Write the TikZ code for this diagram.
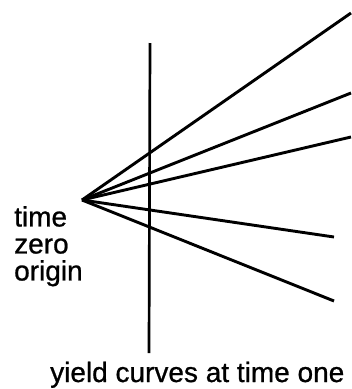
\documentclass[tikz,border=0pt]{standalone}
\usepackage{fontspec}
\setmainfont{Liberation Sans}[FakeBold=0.8]
\usetikzlibrary{positioning}

\begin{document}
\begin{tikzpicture}[
        x=1pt, y=-1pt,
        curve/.style={line width=2.9pt},
        axis/.style={line width=2.7pt},
        lbl/.style={font=\fontsize{28}{27}\selectfont, inner sep=0pt, align=left}
      ]
      \useasboundingbox (0,0) rectangle (352,389);

      % Ursprung und Zeitachse
      \coordinate (orig) at (82,200);
      \coordinate (ttop) at (150,43);
      \coordinate (tbot) at (149,353);

      % Endpunkte der Kurven
      \coordinate (e1) at (351,13);
      \coordinate (e2) at (351,93);
      \coordinate (e3) at (351,137);
      \coordinate (e4) at (334,237);
      \coordinate (e5) at (334,301);

      \draw[axis] (ttop) -- (tbot);
      \foreach \e in {e1,e2,e3,e4,e5}
        \draw[curve] (orig) -- (\e);

      % Beschriftungen
      \node[lbl, anchor=north west] (zero) at (14,206) {time\\zero\\origin};
      \node[lbl, anchor=base west] (one) at (50,382) {yield curves at time one};
    \end{tikzpicture}
\end{document}
